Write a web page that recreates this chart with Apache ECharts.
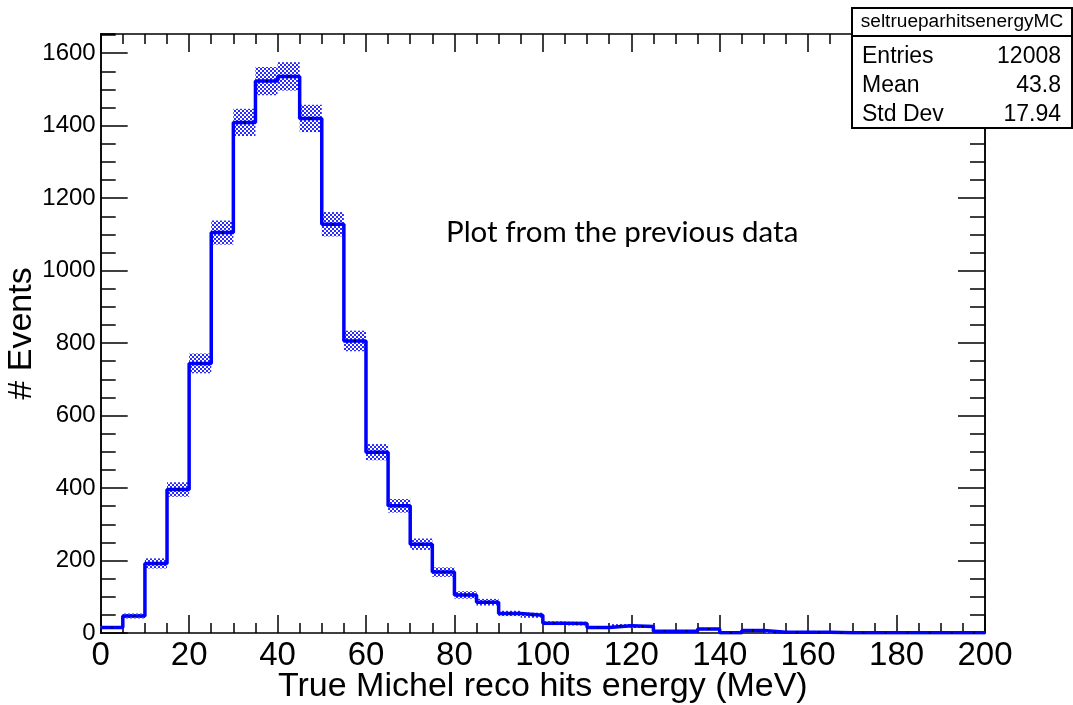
<!DOCTYPE html>
<html>
<head>
<meta charset="utf-8">
<title>seltrueparhitsenergyMC</title>
<script src="https://cdn.jsdelivr.net/npm/echarts@6/dist/echarts.min.js"></script>
<style>
  html, body { margin: 0; padding: 0; background: #ffffff; }
  #chart { width: 1073px; height: 705px; }
</style>
</head>
<body>
<div id="chart"></div>
<script>
// Histogram binning: 40 bins of 5 MeV from 0 to 200 MeV
const binLowEdges = [0,5,10,15,20,25,30,35,40,45,50,55,60,65,70,75,80,85,90,95,
                     100,105,110,115,120,125,130,135,140,145,150,155,160,165,170,175,180,185,190,195];
const binWidth = 5;
const xMax = 200;

// Event counts per bin
const counts = [15,47,192,396,744,1105,1409,1523,1536,1420,1128,806,499,351,245,168,105,85,54,49,
                27,26,15,20,18,5,5,11,1,7,2,2,2,1,1,1,1,1,1,1];

// Statistical uncertainty per bin
const errors = [3.9,6.9,13.9,19.9,27.3,33.2,37.5,39.0,39.2,37.7,33.6,28.4,22.3,18.7,15.7,13.0,10.2,9.2,7.3,7.0,
                5.2,5.1,3.9,4.5,4.2,2.2,2.2,3.3,1.0,2.6,1.4,1.4,1.4,1.0,1.0,1.0,1.0,1.0,1.0,1.0];

// Stats box contents
const statsTitle = 'seltrueparhitsenergyMC';
const statsLabels = ['Entries', 'Mean', 'Std Dev'];
const statsValues = ['12008', '43.8', '17.94'];

const xTitle = 'True Michel reco hits energy (MeV)';
const yTitle = '# Events';
const note = 'Plot from the previous data';

// Checkered fill for the error band
function makeCheckerPattern() {
  const c = document.createElement('canvas');
  c.width = 4; c.height = 4;
  const ctx = c.getContext('2d');
  ctx.fillStyle = '#ffffff';
  ctx.fillRect(0, 0, 4, 4);
  ctx.fillStyle = '#2a2aff';
  ctx.fillRect(0, 0, 2, 2);
  ctx.fillRect(2, 2, 2, 2);
  return c;
}
const checker = makeCheckerPattern();

const bandData = binLowEdges.map((x, i) => [x, x + binWidth, counts[i], errors[i]]);
const stepData = binLowEdges.map((x, i) => [x, counts[i]]);
stepData.push([xMax, counts[counts.length - 1]]);
const centerData = binLowEdges.map((x, i) => [x + binWidth / 2, counts[i]]);

const FONT = '"Liberation Sans", Arial, sans-serif';
const frameLine = { show: true, onZero: false, lineStyle: { color: '#000', width: 1.5 } };

function xAxisDef(pos, showLabels) {
  return {
    type: 'value', position: pos, min: 0, max: xMax, interval: 20,
    axisLine: frameLine,
    axisTick: { show: true, inside: true, length: 18, lineStyle: { color: '#000', width: 1.5 } },
    minorTick: { show: true, splitNumber: 4, length: 10, lineStyle: { color: '#000', width: 1.5 } },
    splitLine: { show: false }, minorSplitLine: { show: false },
    axisLabel: showLabels ? { show: true, fontFamily: FONT, fontSize: 33, color: '#000', margin: 6 } : { show: false },
    name: showLabels ? xTitle : '',
    nameLocation: 'middle', nameGap: 37, nameMoveOverlap: false,
    nameTextStyle: { fontFamily: FONT, fontSize: 34, color: '#000' }
  };
}

function yAxisDef(pos, step, tickLen, showLabels) {
  return {
    type: 'value', position: pos, min: 0, max: 1653, interval: step,
    axisLine: frameLine,
    axisTick: { show: true, inside: true, length: tickLen, lineStyle: { color: '#000', width: 1.5 } },
    splitLine: { show: false },
    axisLabel: showLabels ? {
      show: true, fontFamily: FONT, fontSize: 24, color: '#000', margin: 5, showMaxLabel: false,
      formatter: function (v) { return String(v); }
    } : { show: false },
    name: showLabels ? yTitle : '',
    nameLocation: 'middle', nameGap: 62, nameRotate: 90, nameMoveOverlap: false,
    nameTextStyle: { fontFamily: FONT, fontSize: 34, color: '#000' }
  };
}

const chart = echarts.init(document.getElementById('chart'), null, { renderer: 'canvas' });

const statsLeft = 852, statsRight = 1072, statsTop = 8, statsSep = 36, statsBottom = 128;
const rowY = [57, 86, 115];

const graphics = [
  {
    type: 'rect', z: 100,
    shape: { x: statsLeft, y: statsTop, width: statsRight - statsLeft, height: statsBottom - statsTop },
    style: { fill: '#fff', stroke: '#000', lineWidth: 2 }
  },
  {
    type: 'line', z: 101,
    shape: { x1: statsLeft, y1: statsSep, x2: statsRight, y2: statsSep },
    style: { stroke: '#000', lineWidth: 2 }
  },
  {
    type: 'text', z: 102, x: (statsLeft + statsRight) / 2, y: 22, scaleX: 1.06,
    style: { text: statsTitle, font: '18px ' + FONT, fill: '#000',
             align: 'center', verticalAlign: 'middle', textAlign: 'center', textVerticalAlign: 'middle' }
  },
  {
    type: 'text', z: 101, left: 446, top: 217,
    style: { text: note, font: '29.5px Lato, "Open Sans", sans-serif', fill: '#000' }
  }
];
statsLabels.forEach((lab, i) => {
  graphics.push({
    type: 'text', z: 102, x: 862, y: rowY[i],
    style: { text: lab, font: '23px ' + FONT, fill: '#000',
             align: 'left', verticalAlign: 'middle', textAlign: 'left', textVerticalAlign: 'middle' }
  });
  graphics.push({
    type: 'text', z: 102, x: 1061, y: rowY[i],
    style: { text: statsValues[i], font: '23px ' + FONT, fill: '#000',
             align: 'right', verticalAlign: 'middle', textAlign: 'right', textVerticalAlign: 'middle' }
  });
});

chart.setOption({
  animation: false,
  backgroundColor: '#ffffff',
  grid: { left: 100.7, right: 88, top: 34, bottom: 72, containLabel: false, outerBoundsMode: 'none' },
  xAxis: [xAxisDef('bottom', true), xAxisDef('top', false)],
  yAxis: [
    yAxisDef('left', 200, 27, true),
    yAxisDef('left', 50, 15, false),
    yAxisDef('right', 200, 27, false),
    yAxisDef('right', 50, 15, false)
  ],
  series: [
    {
      type: 'custom', name: 'band', xAxisIndex: 0, yAxisIndex: 0, z: 2,
      data: bandData,
      renderItem: function (params, api) {
        const x0 = api.value(0), x1 = api.value(1), v = api.value(2), e = api.value(3);
        const p0 = api.coord([x0, v + e]);
        const p1 = api.coord([x1, Math.max(0, v - e)]);
        return {
          type: 'rect',
          shape: { x: p0[0], y: p0[1], width: p1[0] - p0[0], height: p1[1] - p0[1] },
          style: { fill: { image: checker, repeat: 'repeat' } }
        };
      }
    },
    {
      type: 'line', name: 'hist', xAxisIndex: 0, yAxisIndex: 0, z: 3,
      data: stepData, step: 'end', symbol: 'none',
      lineStyle: { color: '#0000ff', width: 3.5 }
    },
    {
      type: 'scatter', name: 'centres', xAxisIndex: 0, yAxisIndex: 0, z: 4,
      data: centerData, symbol: 'rect', symbolSize: 2,
      itemStyle: { color: '#000' }
    }
  ],
  graphic: graphics
});
</script>
</body>
</html>
